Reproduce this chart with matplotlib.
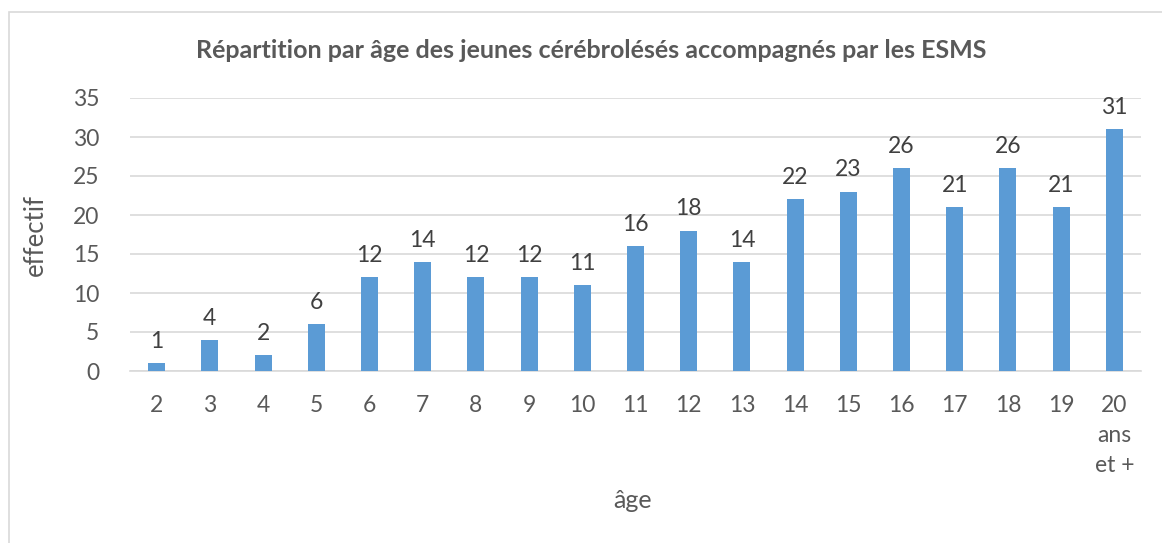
import matplotlib.pyplot as plt
import numpy as np

ages = ['2', '3', '4', '5', '6', '7', '8', '9', '10', '11', '12', '13', '14',
        '15', '16', '17', '18', '19', '20\nans\net +']
effectifs = [1, 4, 2, 6, 12, 14, 12, 12, 11, 16, 18, 14, 22, 23, 26, 21, 26, 21, 31]

title = 'Répartition par âge des jeunes cérébrolésés accompagnés par les ESMS'
grey = '#595959'
bar_color = '#5B9BD5'

plt.rcParams['font.family'] = ['Lato', 'DejaVu Sans']

fig = plt.figure(figsize=(11.62, 5.43), dpi=100)
# chart border (Excel-like frame)
fig.patches.append(plt.Rectangle((9 / 1162, -0.05), 1.2, 1 - 12 / 543 + 0.05,
                                 transform=fig.transFigure, fill=False,
                                 edgecolor='#D9D9D9', linewidth=1.2))

ax = fig.add_axes([130 / 1162, 1 - 371 / 543, (1141 - 130) / 1162, (371 - 98) / 543])
x = np.arange(len(ages))
bars = ax.bar(x, effectifs, width=0.32, color=bar_color, zorder=3)

for xi, v in zip(x, effectifs):
    ax.annotate(str(v), (xi, v), xytext=(0, 8), textcoords='offset points',
                ha='center', va='bottom', fontsize=16.5, color='#404040')

ax.set_xlim(-0.5, len(ages) - 0.5)
ax.set_ylim(0, 35)
ax.set_yticks(range(0, 36, 5))
ax.set_xticks(x)
ax.set_xticklabels(ages, linespacing=1.55)
ax.grid(axis='y', color='#D9D9D9', linewidth=1.2, zorder=0)
for s in ['top', 'right', 'left']:
    ax.spines[s].set_visible(False)
ax.spines['bottom'].set_color('#D9D9D9')
ax.spines['bottom'].set_linewidth(1.2)
ax.tick_params(axis='both', length=0, labelsize=16.5, colors=grey)
ax.tick_params(axis='x', pad=17)
ax.tick_params(axis='y', pad=22)

ax.set_ylabel('effectif', fontsize=18.5, color=grey, labelpad=18)
fig.text(633 / 1162, 1 - 500 / 543, 'âge', fontsize=18, color=grey,
         ha='center', va='center')
fig.text(591 / 1162, 1 - 50 / 543, title, fontsize=18, fontweight='bold',
         color=grey, ha='center', va='center')

fig.savefig('out.png', dpi=100)
